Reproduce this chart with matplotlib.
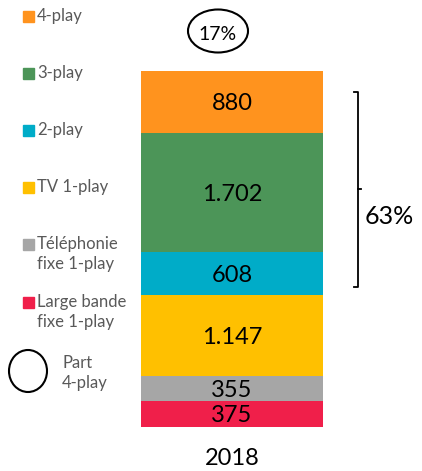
import numpy as np
import matplotlib.pyplot as plt
from matplotlib.patches import Ellipse

# data, bottom to top of the stack
segments = ["Large bande\nfixe 1-play", "Téléphonie\nfixe 1-play", "TV 1-play", "2-play", "3-play", "4-play"]
values = [375, 355, 1147, 608, 1702, 880]
labels = ["375", "355", "1.147", "608", "1.702", "880"]
colors = ["#F01F4A", "#A6A6A6", "#FFC000", "#00ACC8", "#4C9558", "#FF931E"]
year = "2018"
share_4play = "17%"
share_multi = "63%"

plt.rcParams['font.family'] = ['Lato', 'DejaVu Sans']
W, H = 422, 471
fig = plt.figure(figsize=(W / 100, H / 100), dpi=100)

# bar axes (pixel box 141..323, 71..427)
ax = fig.add_axes([141 / W, (H - 427) / H, 182 / W, 356 / H])
bottoms = np.concatenate([[0], np.cumsum(values)[:-1]])
ax.bar(0, values, bottom=bottoms, width=1.0, color=colors)
for b, v, lab in zip(bottoms, values, labels):
    ax.text(0, b + v / 2, lab, ha="center", va="center_baseline", fontsize=17, color="black")
ax.set_xlim(-0.5, 0.5)
ax.set_ylim(0, sum(values))
ax.axis("off")
ax.text(0, -0.088, year, transform=ax.get_xaxis_transform(), ha="center", va="center", fontsize=17)

# overlay in pixel coordinates for legend and annotations
ov = fig.add_axes([0, 0, 1, 1], zorder=3)
ov.set_xlim(0, W)
ov.set_ylim(H, 0)
ov.axis("off")

leg_y = [16, 73, 130, 187, 244, 302]
for name, col, y in zip(segments[::-1], colors[::-1], leg_y):
    ov.add_patch(plt.Rectangle((23, y - 5.5), 11, 11, color=col))
    ov.text(37, y - 8, name, ha="left", va="top", fontsize=12, color="#595959", linespacing=1.3)

ov.add_patch(Ellipse((28, 371), 38, 42, fill=False, lw=1.5, ec="black"))
ov.text(62, 355, "Part\n4-play", ha="left", va="top", fontsize=12, color="#595959", linespacing=1.3)

ov.add_patch(Ellipse((218, 31), 60, 43, fill=False, lw=1.5, ec="black"))
ov.text(218, 33, share_4play, ha="center", va="center_baseline", fontsize=14)

# bracket
ov.plot([354, 358, 358, 354], [92, 92, 287, 287], color="black", lw=1.3)
ov.plot([358, 361], [189, 189], color="black", lw=1.3)
ov.text(389, 215, share_multi, ha="center", va="center_baseline", fontsize=18)

fig.savefig("out.png", dpi=100)
